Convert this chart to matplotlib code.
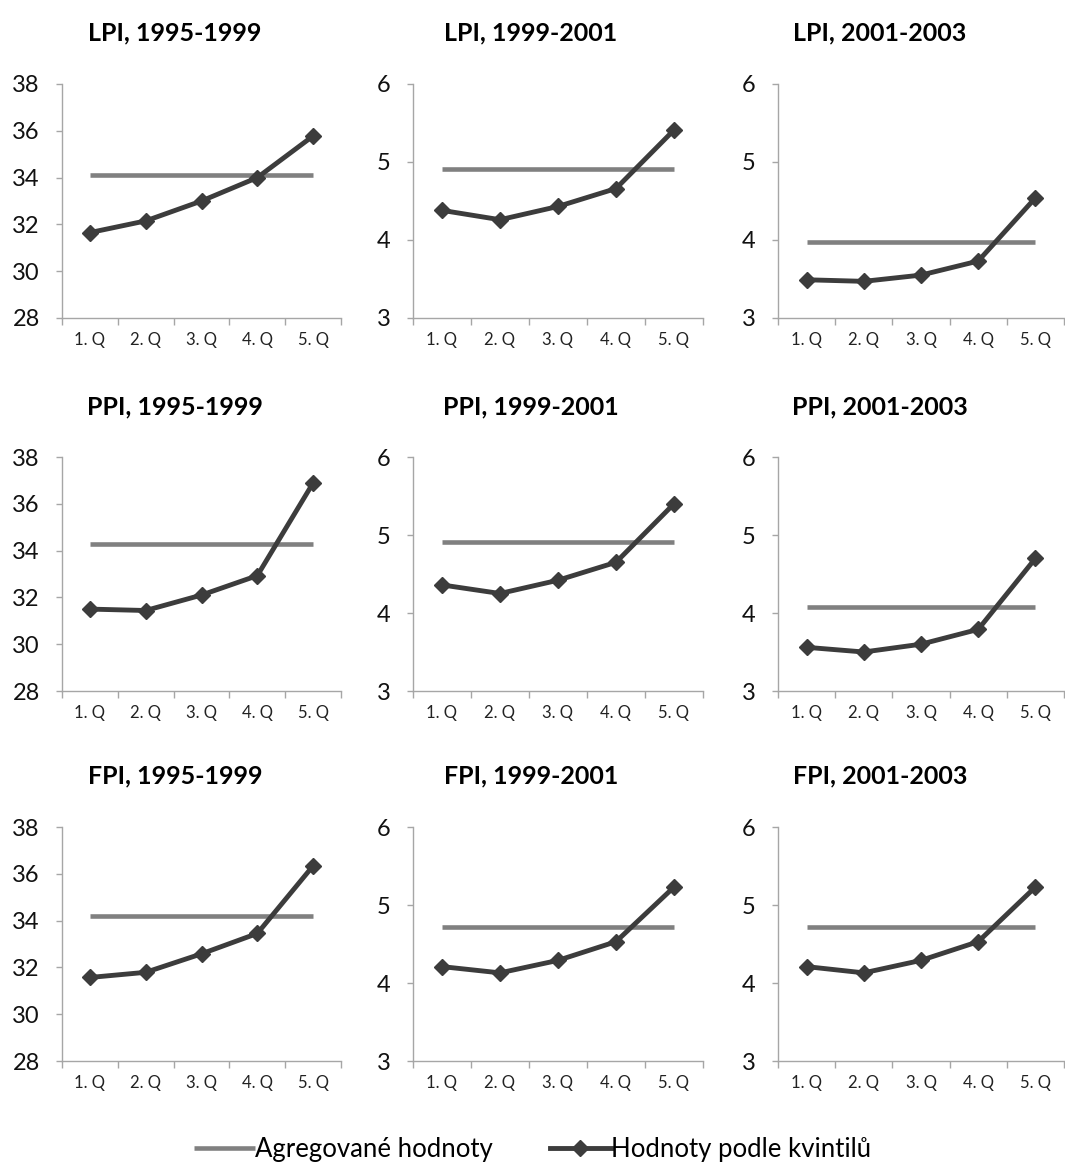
import numpy as np
import matplotlib.pyplot as plt
from matplotlib.ticker import FixedLocator

plt.rcParams['font.family'] = ['Lato', 'DejaVu Sans']

QUINTILES = ['1. Q', '2. Q', '3. Q', '4. Q', '5. Q']

TITLES = [
    'LPI, 1995-1999', 'LPI, 1999-2001', 'LPI, 2001-2003',
    'PPI, 1995-1999', 'PPI, 1999-2001', 'PPI, 2001-2003',
    'FPI, 1995-1999', 'FPI, 1999-2001', 'FPI, 2001-2003',
]

# aggregated index value for each panel
aggregated = [34.13, 4.91, 3.98,
              34.30, 4.91, 4.08,
              34.20, 4.72, 4.72]

# index value per income quintile
lpi_1995 = [31.65, 32.15, 33.00, 34.00, 35.78]
lpi_1999 = [4.38, 4.26, 4.43, 4.66, 5.41]
lpi_2001 = [3.49, 3.47, 3.55, 3.73, 4.54]
ppi_1995 = [31.50, 31.44, 32.10, 32.93, 36.89]
ppi_1999 = [4.36, 4.25, 4.42, 4.65, 5.40]
ppi_2001 = [3.56, 3.50, 3.60, 3.79, 4.70]
fpi_1995 = [31.57, 31.79, 32.58, 33.45, 36.34]
fpi_1999 = [4.21, 4.13, 4.29, 4.53, 5.23]
fpi_2001 = [4.21, 4.13, 4.29, 4.53, 5.23]

quintile_values = [lpi_1995, lpi_1999, lpi_2001,
                   ppi_1995, ppi_1999, ppi_2001,
                   fpi_1995, fpi_1999, fpi_2001]

W, H = 1065, 1172
fig = plt.figure(figsize=(W / 100, H / 100), dpi=100)

col_left = [62, 413, 778]
col_width = [279, 290, 286]
title_x = [175, 531, 880]
row_bottom = [318, 691, 1061]
row_title_y = [33, 407, 776]
ax_h = 234

AGG_COLOR = '#808080'
Q_COLOR = '#3c3c3c'
SPINE = '#a6a6a6'

handles = None
for i, title in enumerate(TITLES):
    r, c = divmod(i, 3)
    ax = fig.add_axes([col_left[c] / W, 1 - row_bottom[r] / H,
                       col_width[c] / W, ax_h / H])
    x = np.arange(len(QUINTILES))
    h1, = ax.plot(x, [aggregated[i]] * len(x), color=AGG_COLOR, lw=3.3,
                  solid_capstyle='butt', label='Agregované hodnoty')
    h2, = ax.plot(x, quintile_values[i], color=Q_COLOR, lw=3.5,
                  marker='D', markersize=8.5, label='Hodnoty podle kvintilů')
    if handles is None:
        handles = [h1, h2]

    ax.set_xlim(-0.5, 4.5)
    if c == 0:
        ax.set_ylim(28, 38)
        ax.set_yticks(np.arange(28, 39, 2))
    else:
        ax.set_ylim(3, 6)
        ax.set_yticks([3, 4, 5, 6])

    ax.set_xticks(x)
    ax.set_xticklabels(QUINTILES)
    ax.xaxis.set_minor_locator(FixedLocator(np.arange(-0.5, 5, 1)))
    ax.tick_params(axis='x', which='major', length=0, pad=10,
                   labelsize=12, labelcolor='#222222')
    ax.tick_params(axis='x', which='minor', length=5, color=SPINE, width=1)
    ax.tick_params(axis='y', length=4, color=SPINE, width=1, pad=12,
                   labelsize=17, labelcolor='#111111')

    for side in ('top', 'right'):
        ax.spines[side].set_visible(False)
    for side in ('left', 'bottom'):
        ax.spines[side].set_color(SPINE)
        ax.spines[side].set_linewidth(1)
    ax.patch.set_alpha(0)

    fig.text(title_x[c] / W, 1 - row_title_y[r] / H, title,
             ha='center', va='center', fontsize=18, fontweight='bold')

fig.legend(handles=handles, loc='center', bbox_to_anchor=(0.5, 1 - 1149 / H),
           ncol=2, frameon=False, fontsize=18.5, handlelength=2.4,
           handletextpad=0.0, columnspacing=2.2)

fig.savefig('out.png', dpi=100, facecolor='white')
